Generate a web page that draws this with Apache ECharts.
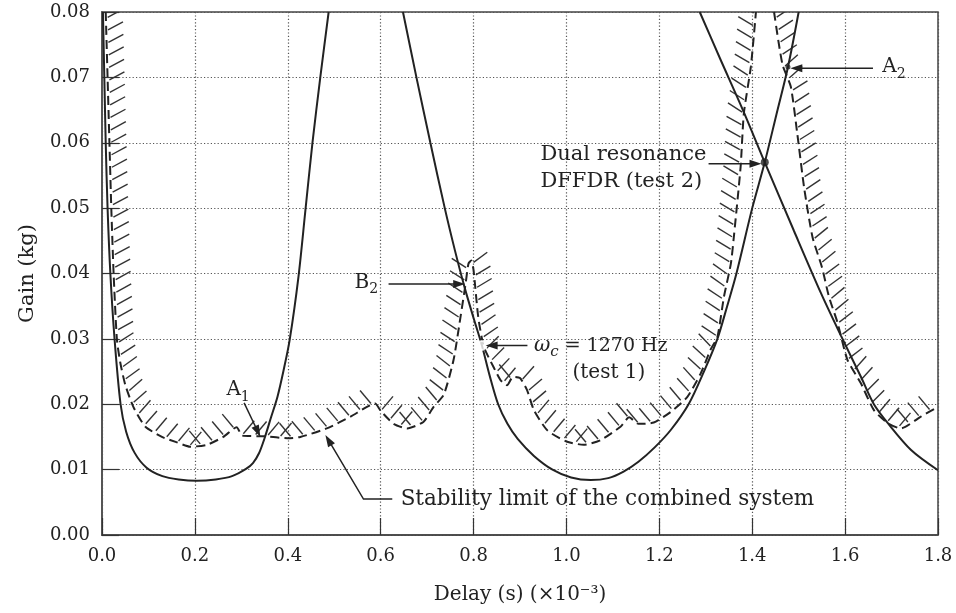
<!DOCTYPE html>
<html><head><meta charset="utf-8">
<script src="https://cdn.jsdelivr.net/npm/echarts@6/dist/echarts.min.js"></script>
<style>html,body{margin:0;padding:0;background:#fff}#c{width:956px;height:613px}</style>
</head><body><div id="c"></div>
<script>
// ---------- data (delay ×1e-3 s, gain kg) ----------
const xTicks = [0, 0.2, 0.4, 0.6, 0.8, 1.0, 1.2, 1.4, 1.6, 1.8];
const yTicks = [0, 0.01, 0.02, 0.03, 0.04, 0.05, 0.06, 0.07, 0.08];

const solidLeft = [[0.002,0.08],[0.005,0.07],[0.008,0.06],[0.012,0.05],[0.018,0.04],[0.027,0.03],[0.040,0.02],
  [0.052,0.0158],[0.07,0.0126],[0.096,0.0103],[0.13,0.0090],[0.165,0.0085],[0.204,0.0083],[0.245,0.0085],
  [0.28,0.0090],[0.31,0.0101],[0.325,0.0110],[0.338,0.0125],[0.35,0.0148],[0.364,0.0180],[0.378,0.0212],
  [0.391,0.0252],[0.404,0.0298],[0.423,0.0395],[0.438,0.0497],[0.453,0.0599],[0.470,0.070],[0.488,0.080]];

const solidMiddle = [[0.648,0.08],[0.677,0.07],[0.707,0.06],[0.738,0.05],[0.76,0.0435],[0.781,0.0378],
  [0.80,0.0332],[0.818,0.029],[0.835,0.0243],[0.853,0.0200],[0.873,0.0170],[0.895,0.0147],[0.93,0.0121],
  [0.97,0.0100],[1.01,0.0088],[1.052,0.0084],[1.09,0.0087],[1.123,0.0097],[1.155,0.0112],[1.19,0.0134],
  [1.225,0.0161],[1.263,0.0200],[1.296,0.0250],[1.325,0.0300],[1.346,0.0350],[1.366,0.0400],[1.400,0.0500],
  [1.427,0.0570],[1.452,0.0643],[1.477,0.0716],[1.50,0.080]];

const solidRight = [[1.287,0.08],[1.33,0.073],[1.38,0.065],[1.427,0.057],[1.49,0.0465],[1.548,0.037],
  [1.591,0.0305],[1.634,0.0242],[1.662,0.020],[1.692,0.0171],[1.742,0.013],[1.80,0.0099]];

const stabilityLeft = [[0.008,0.08],[0.012,0.07],[0.016,0.06],[0.020,0.05],[0.025,0.04],[0.032,0.030],
  [0.039,0.0265],[0.05,0.023],[0.0675,0.0196],[0.093,0.0166],[0.129,0.0150],[0.16,0.0142],[0.19,0.0135],
  [0.226,0.0138],[0.261,0.0150],[0.29,0.0165],[0.302,0.0152],[0.35,0.0151],[0.40,0.0148],[0.427,0.0150],
  [0.484,0.0163],[0.535,0.0181],[0.588,0.0201],[0.60,0.0190],[0.628,0.0170],[0.657,0.0163],[0.692,0.0173],
  [0.714,0.0196],[0.736,0.0215],[0.757,0.0268],[0.772,0.0334],[0.783,0.0385],[0.789,0.0415],[0.795,0.0420],
  [0.80,0.0405],[0.81,0.0334],[0.822,0.0288],[0.843,0.0257],[0.858,0.0237],[0.872,0.0229],[0.885,0.0242],
  [0.90,0.0240],[0.915,0.0222],[0.93,0.0191],[0.959,0.0160],[1.0,0.0143],[1.037,0.0138],[1.073,0.0145],
  [1.117,0.0166],[1.135,0.0180],[1.155,0.0170],[1.188,0.0172],[1.224,0.0188],[1.26,0.0211],[1.289,0.0247],
  [1.31,0.0283],[1.325,0.0303],[1.339,0.0364],[1.354,0.0415],[1.361,0.046],[1.375,0.0563],[1.382,0.0645],
  [1.397,0.0716],[1.408,0.080]];

const stabilityRight = [[1.447,0.080],[1.465,0.072],[1.483,0.0686],[1.497,0.0614],[1.512,0.0530],
  [1.53,0.0455],[1.55,0.0410],[1.565,0.0365],[1.584,0.0324],[1.605,0.0268],[1.634,0.0232],[1.662,0.0191],
  [1.692,0.0171],[1.72,0.0163],[1.763,0.0181],[1.80,0.0196]];

// marked points
const pointA1 = [0.341, 0.0150];
const pointB2 = [0.782, 0.0384];
const pointOmega = [0.818, 0.0290];
const pointDual = [1.427, 0.0570];
const pointA2 = [1.477, 0.0716];
const pointStability = [0.481, 0.0153];

// annotation texts
const labelA1 = '{m|A}{s|1}';
const labelB2 = '{m|B}{s|2}';
const labelOmega = '{w|ω}{ws|c}{m| = 1270 Hz}';
const labelTest1 = '(test 1)';
const labelDual1 = 'Dual resonance';
const labelDual2 = 'DFFDR (test 2)';
const labelA2 = '{m|A}{s|2}';
const labelStability = 'Stability limit of the combined system';

// ---------- layout / style ----------
const FONT = 'DejaVu Serif';
const INK = '#222';
const FS = 18;

const annotations = [
  {texts:[{t:labelA1, at:[0.293,0.0222], align:'center', fs:20}], path:[[0.306,0.0202], pointA1]},
  {texts:[{t:labelB2, at:[0.569,0.0386], align:'center', fs:20}], path:[[0.617,0.0384], pointB2]},
  {texts:[{t:labelOmega, at:[0.930,0.0289], align:'left', fs:19}, {t:labelTest1, at:[1.013,0.0248], align:'left', fs:20}],
   path:[[0.916,0.0290], [0.826,0.0290]]},
  {texts:[{t:labelDual1, at:[0.944,0.0582], align:'left', fs:21}, {t:labelDual2, at:[0.944,0.0541], align:'left', fs:21}],
   path:[[1.306,0.0568],[1.420,0.0568]]},
  {texts:[{t:labelA2, at:[1.680,0.0716], align:'left', fs:20}], path:[[1.660,0.0714],[1.482,0.0714]]},
  {texts:[{t:labelStability, at:[0.643,0.0055], align:'left', fs:21.5}],
   path:[[0.625,0.0055],[0.563,0.0055], pointStability]}
];

function richFor(fs) {
  return {
    m: {fontFamily: FONT, fontSize: fs, lineHeight: fs + 8, fill: INK, color: INK},
    s: {fontFamily: FONT, fontSize: 14, lineHeight: 14, verticalAlign: 'bottom', fill: INK, color: INK},
    w: {fontFamily: FONT, fontSize: fs + 1, fontStyle: 'italic', lineHeight: fs + 8, fill: INK, color: INK},
    ws: {fontFamily: FONT, fontSize: 15, fontStyle: 'italic', lineHeight: 15, verticalAlign: 'bottom', fill: INK, color: INK}
  };
}

function hatchRender(params, api) {
  const seg = params.dataIndex === 0 ? stabilityLeft : stabilityRight;
  const pts = seg.map(p => api.coord(p));
  const children = [];
  const spacing = 12.5, len = 19;
  let acc = spacing * 0.5;
  for (let i = 0; i < pts.length - 1; i++) {
    const p0 = pts[i], p1 = pts[i+1];
    const dx = p1[0]-p0[0], dy = p1[1]-p0[1];
    const L = Math.hypot(dx, dy);
    if (L === 0) continue;
    const tx = dx / L, ty = dy / L;
    const phiN = Math.atan2(tx, ty) * 180 / Math.PI;
    let phiH = 90 + (phiN - 90) * 0.7;
    if (Math.abs(phiH - 90) < 40) phiH = phiN <= 90 ? 50 : 130;
    const r = phiH * Math.PI / 180;
    while (acc <= L) {
      const x = p0[0] + tx*acc, y = p0[1] + ty*acc;
      children.push({type:'line', shape:{x1:x + Math.cos(r)*2, y1:y - Math.sin(r)*2,
        x2:x + Math.cos(r)*len, y2:y - Math.sin(r)*len},
        style:{stroke:'#333', lineWidth:1.4}});
      acc += spacing;
    }
    acc -= L;
  }
  return {type:'group', children};
}

function arrowHead(from, to, size, width) {
  const dx = to[0]-from[0], dy = to[1]-from[1];
  const L = Math.hypot(dx, dy);
  const ux = dx/L, uy = dy/L;
  const bx = to[0]-ux*size, by = to[1]-uy*size;
  return {type:'polygon', shape:{points:[[to[0],to[1]],[bx - uy*width, by + ux*width],[bx + uy*width, by - ux*width]]},
    style:{fill:INK}};
}

function annotationRender(params, api) {
  const a = annotations[params.dataIndex];
  const pts = a.path.map(p => api.coord(p));
  const children = [];
  const n = pts.length;
  const head = 12;
  const last = pts[n-1], prev = pts[n-2];
  const dx = last[0]-prev[0], dy = last[1]-prev[1], L = Math.hypot(dx, dy);
  const linePts = pts.slice(0, n-1).concat([[last[0]-dx/L*head*0.8, last[1]-dy/L*head*0.8]]);
  children.push({type:'polyline', shape:{points:linePts}, style:{stroke:INK, lineWidth:1.5, fill:null}});
  children.push(arrowHead(prev, last, head, 4));
  a.texts.forEach(tx => {
    const c = api.coord(tx.at);
    children.push({type:'text', x:c[0], y:c[1], style:{text:tx.t, align:tx.align, verticalAlign:'middle',
      fontFamily:FONT, fontSize:tx.fs, fill:INK, rich:richFor(tx.fs)}});
  });
  return {type:'group', children};
}

const chart = echarts.init(document.getElementById('c'), null, {renderer:'canvas'});
chart.setOption({
  animation: false,
  backgroundColor: '#fff',
  grid: {left:102, right:18, top:12, bottom:78, show:true, borderColor:'#444', borderWidth:1.5, backgroundColor:'transparent'},
  xAxis: {
    type:'value', min:xTicks[0], max:xTicks[xTicks.length-1], interval:0.2,
    name:'Delay (s) (×10⁻³)', nameLocation:'middle', nameGap:50,
    nameTextStyle:{fontFamily:FONT, fontSize:20, color:INK},
    axisLine:{lineStyle:{color:'#444', width:1.5}},
    axisTick:{inside:true, length:17, lineStyle:{color:'#333', width:1.2}},
    axisLabel:{fontFamily:FONT, fontSize:FS, color:INK, margin:12, formatter:v => v.toFixed(1)},
    splitLine:{show:true, lineStyle:{type:[1.2,2.2], color:'#555', width:1.2}}
  },
  yAxis: {
    type:'value', min:yTicks[0], max:yTicks[yTicks.length-1], interval:0.01,
    name:'Gain (kg)', nameLocation:'middle', nameGap:64,
    nameTextStyle:{fontFamily:FONT, fontSize:21, color:INK},
    axisLine:{show:true, lineStyle:{color:'#555', width:2}},
    axisTick:{show:true, inside:true, length:17, lineStyle:{color:'#333', width:1.2}},
    axisLabel:{fontFamily:FONT, fontSize:FS, color:INK, margin:12, formatter:v => v.toFixed(2)},
    splitLine:{show:true, lineStyle:{type:[1.2,2.2], color:'#555', width:1.2}}
  },
  series: [
    {type:'line', data:solidLeft, showSymbol:false, smooth:0.3, clip:true, lineStyle:{color:INK, width:2}},
    {type:'line', data:solidMiddle, showSymbol:false, smooth:0.3, clip:true, lineStyle:{color:INK, width:2}},
    {type:'line', data:solidRight, showSymbol:false, smooth:0.3, clip:true, lineStyle:{color:INK, width:2}},
    {type:'line', data:stabilityLeft, showSymbol:false, smooth:0.2, clip:true, lineStyle:{color:INK, width:2, type:[9,5]}},
    {type:'line', data:stabilityRight, showSymbol:false, smooth:0.2, clip:true, lineStyle:{color:INK, width:2, type:[9,5]}},
    {type:'custom', renderItem:hatchRender, data:[0,1], clip:true, silent:true},
    {type:'scatter', data:[pointOmega], symbol:'emptyCircle', symbolSize:9, itemStyle:{color:'#fff', borderColor:INK, borderWidth:1.5}, z:5},
    {type:'scatter', data:[pointDual], symbol:'circle', symbolSize:8, itemStyle:{color:INK}, z:5},
    {type:'scatter', data:[pointA2], symbol:'circle', symbolSize:5, itemStyle:{color:INK}, z:5},
    {type:'custom', renderItem:annotationRender, data:annotations.map((a,i)=>i), clip:false, silent:true, z:6}
  ]
});
</script>
</body></html>
